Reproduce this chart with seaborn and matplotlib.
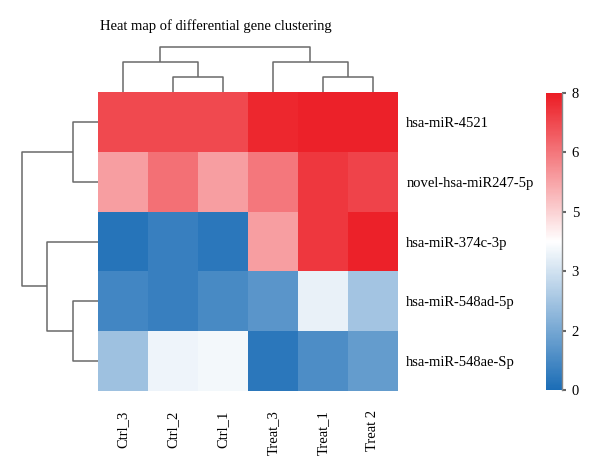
import numpy as np
import pandas as pd
import matplotlib
matplotlib.use("Agg")
import matplotlib.pyplot as plt
import seaborn as sns
from matplotlib.colors import LinearSegmentedColormap
from matplotlib.ticker import FormatStrFormatter

genes = ["hsa-miR-4521", "novel-hsa-miR247-5p", "hsa-miR-374c-3p",
         "hsa-miR-548ad-5p", "hsa-miR-548ae-Sp"]
samples = ["Ctrl_3", "Ctrl_2", "Ctrl_1", "Treat_3", "Treat_1", "Treat 2"]

mir_4521 = [7.2, 7.2, 7.2, 7.8, 7.9, 7.9]
mir_247 = [5.7, 6.5, 5.7, 6.4, 7.5, 7.3]
mir_374c = [0.2, 0.5, 0.3, 5.7, 7.5, 7.9]
mir_548ad = [0.7, 0.5, 0.8, 1.1, 3.6, 2.4]
mir_548ae = [2.3, 3.7, 3.8, 0.3, 0.9, 1.3]

# linkage: [left, right, height, size]
row_link = np.array([[3, 4, 1, 2],
                     [0, 1, 1, 2],
                     [2, 5, 2, 3],
                     [6, 7, 3, 5]], dtype=float)
col_link = np.array([[1, 2, 1, 2],
                     [4, 5, 1, 2],
                     [0, 6, 2, 3],
                     [3, 7, 2, 3],
                     [8, 9, 3, 6]], dtype=float)

df = pd.DataFrame([mir_4521, mir_247, mir_374c, mir_548ad, mir_548ae],
                  index=genes, columns=samples)

cmap = LinearSegmentedColormap.from_list("bwr_custom", ["#1b6db6", "#ffffff", "#ec1c24"])

plt.rcParams["font.family"] = ["Liberation Serif", "DejaVu Serif"]

g = sns.clustermap(df, row_linkage=row_link, col_linkage=col_link,
                   cmap=cmap, vmin=0, vmax=8, center=4,
                   figsize=(6, 4.76), linewidths=0,
                   tree_kws={"colors": "#6a6a6a", "linewidths": 1.1},
                   cbar_kws={"ticks": np.linspace(0, 8, 6)})

g.figure.set_dpi(100)
g.ax_heatmap.set_position([0.1633, 0.1786, 0.5, 0.628])
g.ax_row_dendrogram.set_position([0.03, 0.1786, 0.1333, 0.628])
g.ax_col_dendrogram.set_position([0.1633, 0.8067, 0.5, 0.0987])
g.ax_cbar.set_position([0.91, 0.1807, 0.0267, 0.624])

hm = g.ax_heatmap
hm.set_xlabel("")
hm.set_ylabel("")
hm.tick_params(axis="y", length=0, labelsize=10.5, pad=6)
hm.tick_params(axis="x", length=0, labelsize=10.5, pad=14)
hm.set_xticklabels(hm.get_xticklabels(), rotation=90)
hm.set_yticklabels(hm.get_yticklabels(), rotation=0)

cax = g.ax_cbar
cbar = hm.collections[0].colorbar
cbar.outline.set_visible(False)
cax.yaxis.set_major_formatter(FormatStrFormatter("%.0f"))
cax.tick_params(labelsize=10.5, length=3, width=1.5, color="#666666", pad=4)
cax.plot([1, 1], [0, 1], transform=cax.transAxes, color="#888888", lw=1, clip_on=False)

g.figure.text(0.36, 0.945, "Heat map of differential gene clustering",
              ha="center", va="center", fontsize=10.5)

g.figure.savefig("out.png", dpi=100)
